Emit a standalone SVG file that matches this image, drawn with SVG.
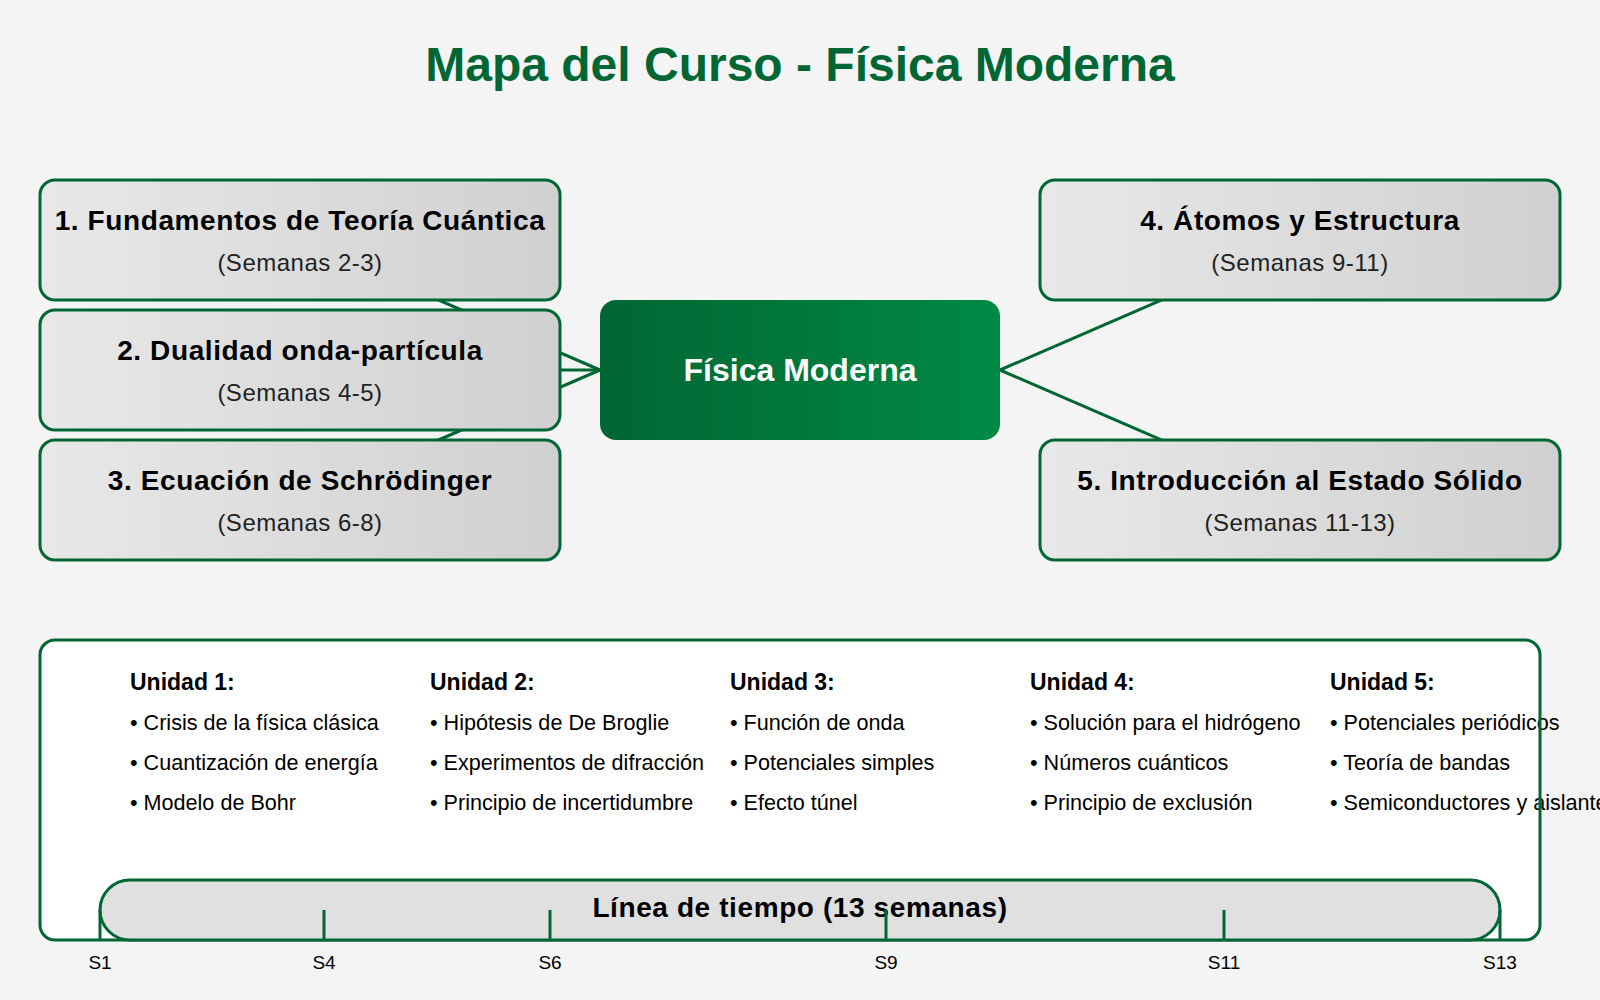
<svg xmlns="http://www.w3.org/2000/svg" width="1600" height="1000" viewBox="0 0 1600 1000">
<defs>
  <linearGradient id="gNode" x1="0" y1="0" x2="1" y2="0">
    <stop offset="0" stop-color="#e8e8e8"/>
    <stop offset="1" stop-color="#d0d0d0"/>
  </linearGradient>
  <linearGradient id="gCenter" x1="0" y1="0" x2="1" y2="0">
    <stop offset="0" stop-color="#006633"/>
    <stop offset="1" stop-color="#008a44"/>
  </linearGradient>
  <style>
    text { font-family: "Liberation Sans", Arial, sans-serif; }
    .title { font-size: 48px; font-weight: bold; fill: #006633; text-anchor: middle; }
    .node rect { fill: url(#gNode); stroke: #006633; stroke-width: 3; }
    .nt { font-size: 28px; font-weight: bold; fill: #000; text-anchor: middle; letter-spacing: 0.6px; }
    .ns { font-size: 24px; fill: #222; text-anchor: middle; letter-spacing: 0.5px; }
    .conn line { stroke: #006633; stroke-width: 3; }
    .uh { font-size: 23px; font-weight: bold; fill: #000; }
    .ui { font-size: 21.6px; fill: #000; }
    .tick { stroke: #006633; stroke-width: 3; }
    .tl { font-size: 19px; fill: #000; text-anchor: middle; }
  </style>
</defs>
<rect x="0" y="0" width="1600" height="1000" fill="#f4f4f4"/>
<text class="title" x="800" y="81">Mapa del Curso - Física Moderna</text>

<g id="connectors" class="conn">
  <line x1="600" y1="370" x2="300" y2="240"/>
  <line x1="600" y1="370" x2="300" y2="370"/>
  <line x1="600" y1="370" x2="300" y2="500"/>
  <line x1="1000" y1="370" x2="1300" y2="240"/>
  <line x1="1000" y1="370" x2="1300" y2="500"/>
</g>

<g id="center">
  <rect x="600" y="300" width="400" height="140" rx="16" fill="url(#gCenter)"/>
  <text x="800" y="381" font-size="32" font-weight="bold" fill="#fff" text-anchor="middle">Física Moderna</text>
</g>

<g id="node1" class="node">
  <rect x="40" y="180" width="520" height="120" rx="15"/>
  <text class="nt" x="300" y="230">1. Fundamentos de Teoría Cuántica</text>
  <text class="ns" x="300" y="271">(Semanas 2-3)</text>
</g>
<g id="node2" class="node">
  <rect x="40" y="310" width="520" height="120" rx="15"/>
  <text class="nt" x="300" y="360">2. Dualidad onda-partícula</text>
  <text class="ns" x="300" y="401">(Semanas 4-5)</text>
</g>
<g id="node3" class="node">
  <rect x="40" y="440" width="520" height="120" rx="15"/>
  <text class="nt" x="300" y="490">3. Ecuación de Schrödinger</text>
  <text class="ns" x="300" y="531">(Semanas 6-8)</text>
</g>
<g id="node4" class="node">
  <rect x="1040" y="180" width="520" height="120" rx="15"/>
  <text class="nt" x="1300" y="230">4. Átomos y Estructura</text>
  <text class="ns" x="1300" y="271">(Semanas 9-11)</text>
</g>
<g id="node5" class="node">
  <rect x="1040" y="440" width="520" height="120" rx="15"/>
  <text class="nt" x="1300" y="490">5. Introducción al Estado Sólido</text>
  <text class="ns" x="1300" y="531">(Semanas 11-13)</text>
</g>

<g id="units">
  <rect x="40" y="640" width="1500" height="300" rx="15" fill="#fff"/>
  <g id="unit1">
    <text class="uh" x="130" y="690">Unidad 1:</text>
    <text class="ui" x="130" y="730">• Crisis de la física clásica</text>
    <text class="ui" x="130" y="770">• Cuantización de energía</text>
    <text class="ui" x="130" y="810">• Modelo de Bohr</text>
  </g>
  <g id="unit2">
    <text class="uh" x="430" y="690">Unidad 2:</text>
    <text class="ui" x="430" y="730">• Hipótesis de De Broglie</text>
    <text class="ui" x="430" y="770">• Experimentos de difracción</text>
    <text class="ui" x="430" y="810">• Principio de incertidumbre</text>
  </g>
  <g id="unit3">
    <text class="uh" x="730" y="690">Unidad 3:</text>
    <text class="ui" x="730" y="730">• Función de onda</text>
    <text class="ui" x="730" y="770">• Potenciales simples</text>
    <text class="ui" x="730" y="810">• Efecto túnel</text>
  </g>
  <g id="unit4">
    <text class="uh" x="1030" y="690">Unidad 4:</text>
    <text class="ui" x="1030" y="730">• Solución para el hidrógeno</text>
    <text class="ui" x="1030" y="770">• Números cuánticos</text>
    <text class="ui" x="1030" y="810">• Principio de exclusión</text>
  </g>
  <g id="unit5">
    <text class="uh" x="1330" y="690">Unidad 5:</text>
    <text class="ui" x="1330" y="730">• Potenciales periódicos</text>
    <text class="ui" x="1330" y="770">• Teoría de bandas</text>
    <text class="ui" x="1330" y="810">• Semiconductores y aislantes</text>
  </g>
  <rect x="40" y="640" width="1500" height="300" rx="15" fill="none" stroke="#006633" stroke-width="3"/>
</g>

<g id="timeline">
  <rect x="100" y="880" width="1400" height="60" rx="30" fill="#e0e0e0" stroke="#006633" stroke-width="3"/>
  <text class="nt" x="800" y="917">Línea de tiempo (13 semanas)</text>
  <line class="tick" x1="100" y1="910" x2="100" y2="940"/>
  <line class="tick" x1="324" y1="910" x2="324" y2="940"/>
  <line class="tick" x1="550" y1="910" x2="550" y2="940"/>
  <line class="tick" x1="886" y1="910" x2="886" y2="940"/>
  <line class="tick" x1="1224" y1="910" x2="1224" y2="940"/>
  <line class="tick" x1="1500" y1="910" x2="1500" y2="940"/>
  <text class="tl" x="100" y="969">S1</text>
  <text class="tl" x="324" y="969">S4</text>
  <text class="tl" x="550" y="969">S6</text>
  <text class="tl" x="886" y="969">S9</text>
  <text class="tl" x="1224" y="969">S11</text>
  <text class="tl" x="1500" y="969">S13</text>
</g>
</svg>
